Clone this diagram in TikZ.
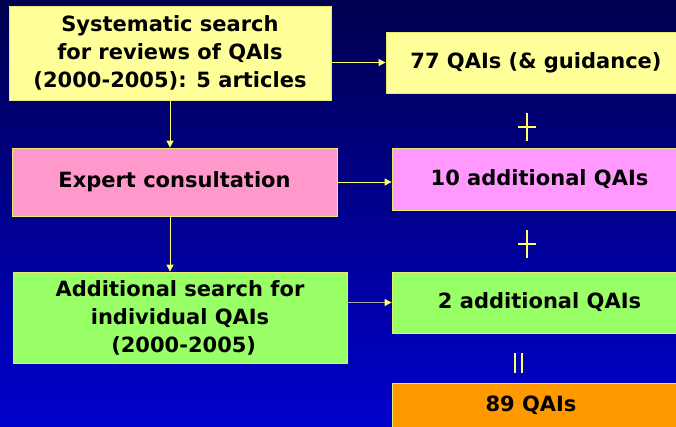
\documentclass[tikz,border=0pt]{standalone}
\usepackage{fontspec}
\setmainfont{DejaVu Sans}
\usetikzlibrary{arrows.meta}
\definecolor{bgtop}{RGB}{0,0,80}
\definecolor{bgbot}{RGB}{0,0,205}
\definecolor{pyellow}{RGB}{255,255,153}
\definecolor{ppink}{RGB}{255,153,204}
\definecolor{pmagenta}{RGB}{255,153,255}
\definecolor{pgreen}{RGB}{153,255,102}
\definecolor{porange}{RGB}{255,153,0}
\definecolor{edge}{RGB}{235,235,110}
\definecolor{lineyellow}{RGB}{255,255,102}
\tikzset{
  box/.style={draw=edge, line width=0.8pt, rectangle, align=center, inner sep=0pt,
    font=\fontsize{21}{28}\selectfont\bfseries, text=black},
  conn/.style={draw=lineyellow, line width=0.9pt, -{Triangle[length=7pt,width=7pt,color=lineyellow]}},
  sym/.style={draw=lineyellow, line width=1.6pt}
}
\begin{document}
\begin{tikzpicture}[x=1pt,y=-1pt]
\useasboundingbox (0,0) rectangle (676,426);
\shade[top color=bgtop, bottom color=bgbot] (0,0) rectangle (676,426);

\node[box, fill=pyellow, minimum width=322pt, minimum height=94pt] (sys) at (170,53)
  {Systematic search\\for reviews of QAIs\\(2000-2005): 5 articles};
\node[box, fill=pyellow, minimum width=300pt, minimum height=61pt] (q77) at (536,62.5)
  {77 QAIs (\& guidance)};
\node[box, fill=ppink, minimum width=325pt, minimum height=68pt] (exp) at (174.5,182)
  {Expert consultation};
\node[box, fill=pmagenta, minimum width=295pt, minimum height=62pt] (q10) at (539.5,179)
  {10 additional QAIs};
\node[box, fill=pgreen, minimum width=334pt, minimum height=91pt] (add) at (180,317.5)
  {Additional search for\\individual QAIs\\\ (2000-2005)};
\node[box, fill=pgreen, minimum width=295pt, minimum height=61pt] (q2) at (539.5,302.5)
  {2 additional QAIs};
\node[box, fill=porange, minimum width=295pt, minimum height=46pt] (q89) at (539.5,406)
  {};
\node[font=\fontsize{21}{28}\selectfont\bfseries, text=black] (t89) at (531,405) {89 QAIs};

\draw[conn] (sys.east |- q77.west) -- (q77.west);
\draw[conn] (exp.east) -- (exp.east -| q10.west);
\draw[conn, draw=gray!70] (add.east |- q2.west) -- (q2.west);
\draw[conn] (sys.south) -- (sys.south |- exp.north);
\draw[conn] (exp.south -| sys.south) -- (sys.south |- add.north);

\draw[sym] (518,127) -- (536,127) (527,113) -- (527,141);
\draw[sym] (518,244) -- (536,244) (527,230) -- (527,258);
\draw[sym] (515,353) -- (515,373) (522,353) -- (522,373);
\end{tikzpicture}
\end{document}
